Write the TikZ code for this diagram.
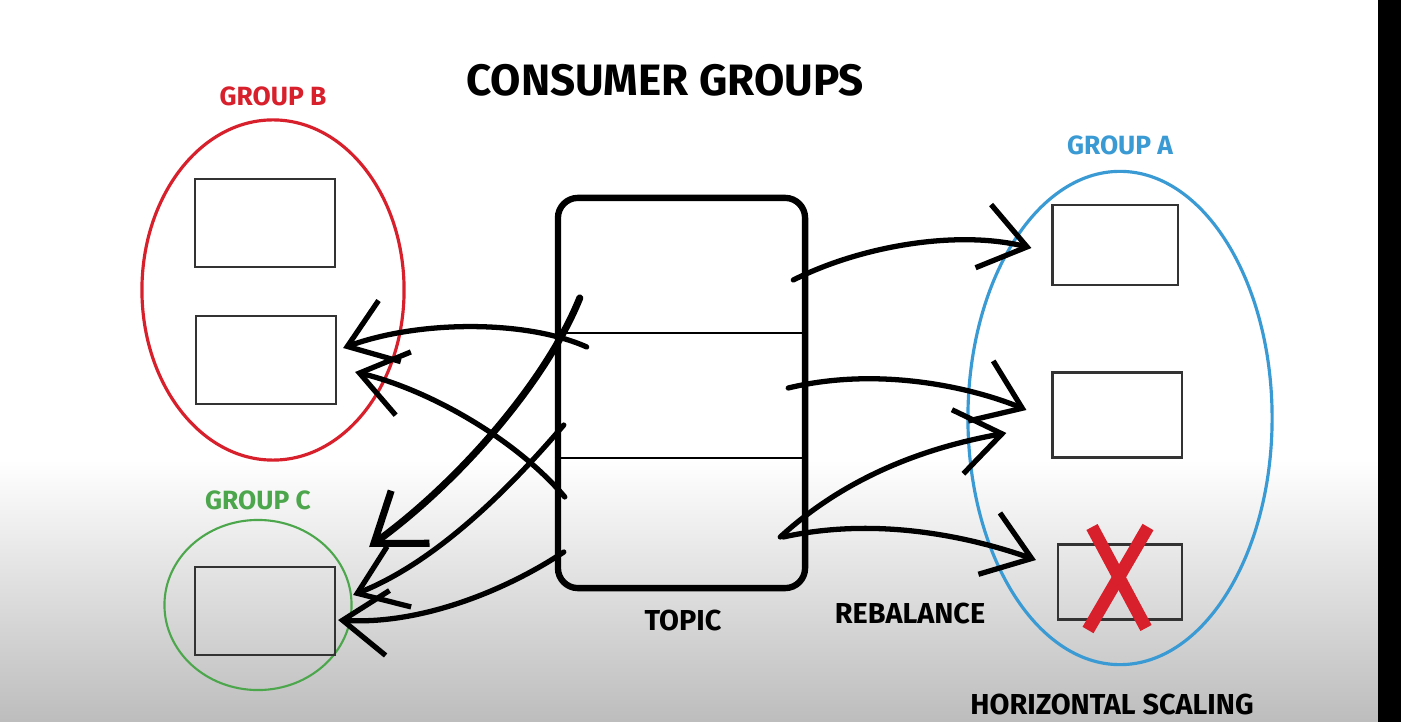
\documentclass[tikz,border=0pt]{standalone}
\usepackage{fontspec}
\setmainfont{Fira Sans}
\usepackage{tikz}
\usetikzlibrary{shapes.geometric}
\usetikzlibrary{positioning}
\usetikzlibrary{calc,arrows.meta}
\definecolor{cg-red}{HTML}{D8202C}
\definecolor{cg-blue}{HTML}{3A9AD4}
\definecolor{cg-green}{HTML}{4CA64C}
\definecolor{cg-box}{HTML}{333333}

\begin{document}
\begin{tikzpicture}[
    x=0.01cm, y=-0.01cm, % pixel grid of the sketch
    font=\bfseries,
    >={Straight Barb[length=4.5mm,width=6.5mm]}
  ]

  % Styles for the hand drawn look
  \tikzset{
    consumer/.style={draw=cg-box, line width=0.6pt, minimum width=1.4cm, minimum height=0.88cm, inner sep=0pt},
    group/.style={ellipse, draw, line width=0.9pt, inner sep=0pt},
    grouplabel/.style={font=\fontsize{7.5}{9}\selectfont\bfseries},
    caption/.style={font=\fontsize{8.2}{10}\selectfont\bfseries, text=black},
    flow/.style={->, line width=1.5pt, line cap=round}
  }

  % Canvas and backdrop
  \fill[white] (0,0) rectangle (1401,722);
  \shade[top color=white, bottom color=black!26] (0,460) rectangle (1378,722);
  \fill[black] (1378,0) rectangle (1401,722);
  \useasboundingbox (0,0) rectangle (1401,722);

  \node (title) at (665,80) {\fontsize{12.5}{15}\selectfont CONSUMER GROUPS};

  % Groups
  \node (grpB) [group, draw=cg-red, minimum width=2.62cm, minimum height=3.4cm] at (273,290) {};
  \node (grpA) [group, draw=cg-blue, minimum width=3.04cm, minimum height=4.93cm] at (1120,418) {};
  \node (grpC) [group, draw=cg-green, line width=0.6pt, minimum width=1.87cm, minimum height=1.7cm] at (258,605) {};
  \node (labB) [grouplabel, text=cg-red, above=0cm of grpB] {GROUP B};
  \node (labA) [grouplabel, text=cg-blue, above=0.02cm of grpA] {GROUP A};
  \node (labC) [grouplabel, text=cg-green, above=-0.03cm of grpC] {GROUP C};

  % Consumers
  \node (b1) [consumer] at (265,223) {};
  \node (b2) [consumer] at (266,360) {};
  \node (c1) [consumer] at (265,611) {};
  \node (a1) [consumer, minimum width=1.25cm, minimum height=0.8cm] at (1115,245) {};
  \node (a2) [consumer, minimum width=1.29cm, minimum height=0.85cm] at (1117,415) {};
  \node (a3) [consumer, minimum width=1.24cm, minimum height=0.75cm] at (1120,582) {};

  % Topic with its partitions
  \node (topic) [draw, line width=1.8pt, rounded corners=0.2cm, minimum width=2.47cm, minimum height=3.9cm] at (681.5,393) {};
  \draw[line width=0.6pt] (topic.west |- 0,333) -- (topic.east |- 0,333);
  \draw[line width=0.6pt] (topic.west |- 0,458) -- (topic.east |- 0,458);
  \node (topiclab) [caption] at (683,621) {TOPIC};
  \node (rebal) [caption] at (910,614) {REBALANCE};
  \node (hscale) [caption] at (1112,705) {HORIZONTAL SCALING};

  % Removed consumer
  \draw[cg-red, line width=3.6pt] (1092,527) -- (1146,628);
  \draw[cg-red, line width=3.6pt] (1148,527) -- (1088,630);

  % Partitions to group A
  \draw[flow] ($(topic.east)+(-15,-113)$) .. controls +(70,-35) and +(-73,-18) .. ($(a1.west)+(-20,3)$);
  \draw[flow] ($(topic.east)+(-20,-5)$) .. controls +(95,-23) and +(-48,-20) .. ($(a2.west)+(-25,-5)$);
  \draw[flow] ($(topic.east)+(-28,144)$) .. controls +(73,-67) and +(-67,12) .. ($(a2.west)+(-45,18)$);
  \draw[flow] ($(topic.east)+(-25,144)$) .. controls +(100,-22) and +(-57,-20) .. ($(a3.west)+(-21,-22)$);

  % Partitions to groups B and C
  \draw[flow] ($(topic.west)+(32,-46)$) .. controls +(-60,-27) and +(77,-28) .. ($(b2.east)+(6,-12)$);
  \draw[flow] ($(topic.west)+(10,104)$) .. controls +(-48,-57) and +(75,18) .. ($(b2.east)+(18,12)$);
  \draw[flow, line width=2pt] ($(topic.west)+(25,-95)$) .. controls +(-33,82) and +(92,-67) .. ($(c1.east)+(33,-64)$);
  \draw[flow] ($(topic.west)+(9,32)$) .. controls +(-47,55) and +(88,-35) .. ($(c1.east)+(17,-16)$);
  \draw[flow] ($(topic.west)+(9,159)$) .. controls +(-57,38) and +(83,5) .. ($(c1.east)+(2,9)$);

\end{tikzpicture}
\end{document}
